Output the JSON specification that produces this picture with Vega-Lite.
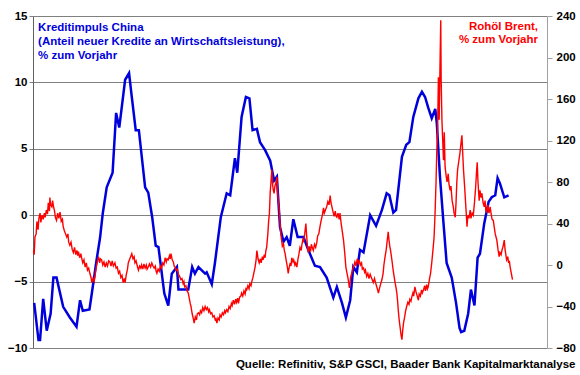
{
"$schema": "https://vega.github.io/schema/vega-lite/v6.json",
"width": 514, "height": 332,
"autosize": "none",
"padding": {"left": 33, "top": 16, "right": 33, "bottom": 27},
"background": "white",
"config": {"view": {"stroke": null}, "font": "Liberation Sans"},
"title": {"text": "Quelle: Refinitiv, S&P GSCI, Baader Bank Kapitalmarktanalyse", "orient": "bottom", "anchor": "end", "frame": "bounds", "fontSize": 11.5, "fontWeight": "bold", "font": "Liberation Sans", "color": "black", "offset": 5},
"datasets": {
"credit": [
{"t":2011.03,"v":-6.6},{"t":2011.14,"v":-9.4},{"t":2011.18,"v":-9.4},{"t":2011.26,"v":-6.3},{"t":2011.35,"v":-8.7},{"t":2011.45,"v":-7.4},{"t":2011.52,"v":-4.7},{"t":2011.60,"v":-4.7},{"t":2011.77,"v":-6.9},{"t":2011.94,"v":-7.7},{"t":2012.11,"v":-8.4},{"t":2012.20,"v":-6.4},{"t":2012.27,"v":-7.2},{"t":2012.44,"v":-7.1},{"t":2012.50,"v":-5.9},{"t":2012.62,"v":-3.4},{"t":2012.71,"v":-1.7},{"t":2012.78,"v":0.15},{"t":2012.88,"v":2.1},{"t":2013.03,"v":3.2},{"t":2013.12,"v":7.7},{"t":2013.20,"v":6.6},{"t":2013.35,"v":10.2},{"t":2013.45,"v":10.7},{"t":2013.52,"v":8.9},{"t":2013.62,"v":6.4},{"t":2013.70,"v":6.4},{"t":2013.86,"v":2.1},{"t":2013.94,"v":1.7},{"t":2014.04,"v":-0.15},{"t":2014.13,"v":-2.3},{"t":2014.20,"v":-2.4},{"t":2014.35,"v":-5.9},{"t":2014.45,"v":-6.8},{"t":2014.54,"v":-4.4},{"t":2014.67,"v":-3.9},{"t":2014.71,"v":-5.6},{"t":2014.96,"v":-5.6},{"t":2015.06,"v":-3.9},{"t":2015.13,"v":-4.4},{"t":2015.22,"v":-3.9},{"t":2015.39,"v":-4.4},{"t":2015.43,"v":-4.3},{"t":2015.56,"v":-5.2},{"t":2015.64,"v":-3.6},{"t":2015.79,"v":-0.15},{"t":2015.94,"v":1.65},{"t":2016.03,"v":1.5},{"t":2016.15,"v":4.3},{"t":2016.21,"v":3.2},{"t":2016.32,"v":7.4},{"t":2016.43,"v":8.9},{"t":2016.52,"v":8.8},{"t":2016.60,"v":6.4},{"t":2016.71,"v":6.5},{"t":2016.79,"v":5.5},{"t":2016.92,"v":4.9},{"t":2017.05,"v":4.1},{"t":2017.15,"v":2.6},{"t":2017.22,"v":2.9},{"t":2017.30,"v":-0.9},{"t":2017.39,"v":-2.0},{"t":2017.47,"v":-1.65},{"t":2017.55,"v":-2.3},{"t":2017.64,"v":-0.3},{"t":2017.75,"v":-1.65},{"t":2017.90,"v":-1.65},{"t":2018.02,"v":-2.6},{"t":2018.19,"v":-3.8},{"t":2018.32,"v":-3.9},{"t":2018.49,"v":-4.7},{"t":2018.66,"v":-6.2},{"t":2018.75,"v":-5.4},{"t":2018.88,"v":-6.6},{"t":2018.98,"v":-7.7},{"t":2019.09,"v":-6.4},{"t":2019.17,"v":-3.9},{"t":2019.26,"v":-4.3},{"t":2019.34,"v":-2.6},{"t":2019.43,"v":-2.8},{"t":2019.60,"v":0.0},{"t":2019.75,"v":-0.8},{"t":2019.90,"v":0.4},{"t":2020.02,"v":1.65},{"t":2020.09,"v":1.5},{"t":2020.19,"v":0.2},{"t":2020.26,"v":0.4},{"t":2020.41,"v":4.4},{"t":2020.52,"v":5.3},{"t":2020.60,"v":5.5},{"t":2020.70,"v":7.4},{"t":2020.83,"v":8.8},{"t":2020.92,"v":9.3},{"t":2021.00,"v":8.9},{"t":2021.08,"v":8.1},{"t":2021.17,"v":7.3},{"t":2021.26,"v":8.0},{"t":2021.30,"v":6.9},{"t":2021.38,"v":2.9},{"t":2021.47,"v":-0.6},{"t":2021.55,"v":-3.6},{"t":2021.68,"v":-4.7},{"t":2021.79,"v":-6.6},{"t":2021.88,"v":-8.5},{"t":2021.92,"v":-8.8},{"t":2022.00,"v":-8.7},{"t":2022.10,"v":-7.4},{"t":2022.17,"v":-5.6},{"t":2022.26,"v":-6.8},{"t":2022.34,"v":-3.2},{"t":2022.40,"v":-2.9},{"t":2022.51,"v":-0.6},{"t":2022.62,"v":1.0},{"t":2022.70,"v":1.35},{"t":2022.79,"v":1.5},{"t":2022.85,"v":2.8},{"t":2022.91,"v":2.4},{"t":2023.02,"v":1.35},{"t":2023.13,"v":1.5}
],
"brent": [
{"t":2011.00,"r":15},{"t":2011.03,"r":10},{"t":2011.05,"r":27},{"t":2011.08,"r":30},{"t":2011.10,"r":42},{"t":2011.13,"r":34},{"t":2011.15,"r":45},{"t":2011.18,"r":50},{"t":2011.20,"r":41},{"t":2011.23,"r":48},{"t":2011.26,"r":44},{"t":2011.29,"r":50},{"t":2011.31,"r":46},{"t":2011.34,"r":53},{"t":2011.37,"r":49},{"t":2011.39,"r":60},{"t":2011.42,"r":52},{"t":2011.43,"r":65},{"t":2011.45,"r":58},{"t":2011.48,"r":56},{"t":2011.50,"r":62},{"t":2011.52,"r":57},{"t":2011.55,"r":52},{"t":2011.57,"r":46},{"t":2011.60,"r":43},{"t":2011.63,"r":50},{"t":2011.66,"r":45},{"t":2011.69,"r":51},{"t":2011.72,"r":42},{"t":2011.75,"r":44},{"t":2011.77,"r":37},{"t":2011.80,"r":33},{"t":2011.83,"r":30},{"t":2011.86,"r":27},{"t":2011.89,"r":30},{"t":2011.91,"r":22},{"t":2011.94,"r":19},{"t":2011.97,"r":22},{"t":2012.00,"r":15},{"t":2012.03,"r":12},{"t":2012.06,"r":17},{"t":2012.09,"r":10},{"t":2012.12,"r":14},{"t":2012.14,"r":9},{"t":2012.16,"r":13},{"t":2012.19,"r":7},{"t":2012.22,"r":11},{"t":2012.24,"r":7},{"t":2012.27,"r":2},{"t":2012.30,"r":5},{"t":2012.33,"r":-2},{"t":2012.36,"r":2},{"t":2012.39,"r":-5},{"t":2012.42,"r":-3},{"t":2012.45,"r":-8},{"t":2012.48,"r":-12},{"t":2012.50,"r":-17},{"t":2012.53,"r":-13},{"t":2012.56,"r":-16},{"t":2012.58,"r":-11},{"t":2012.61,"r":-3},{"t":2012.64,"r":3},{"t":2012.67,"r":8},{"t":2012.70,"r":2},{"t":2012.72,"r":6},{"t":2012.75,"r":5},{"t":2012.78,"r":0},{"t":2012.81,"r":3},{"t":2012.84,"r":-2},{"t":2012.87,"r":2},{"t":2012.90,"r":-1},{"t":2012.93,"r":4},{"t":2012.96,"r":3},{"t":2012.99,"r":-1},{"t":2013.02,"r":4},{"t":2013.05,"r":-1},{"t":2013.09,"r":2},{"t":2013.12,"r":-3},{"t":2013.15,"r":-2},{"t":2013.18,"r":-8},{"t":2013.21,"r":-6},{"t":2013.24,"r":-12},{"t":2013.27,"r":-10},{"t":2013.30,"r":-17},{"t":2013.33,"r":-13},{"t":2013.35,"r":-17},{"t":2013.38,"r":-9},{"t":2013.41,"r":-4},{"t":2013.43,"r":2},{"t":2013.46,"r":5},{"t":2013.49,"r":8},{"t":2013.52,"r":11},{"t":2013.55,"r":6},{"t":2013.58,"r":8},{"t":2013.60,"r":2},{"t":2013.63,"r":4},{"t":2013.66,"r":-1},{"t":2013.69,"r":-5},{"t":2013.72,"r":-1},{"t":2013.75,"r":-3},{"t":2013.77,"r":0},{"t":2013.80,"r":-4},{"t":2013.83,"r":1},{"t":2013.86,"r":-3},{"t":2013.89,"r":0},{"t":2013.91,"r":-4},{"t":2013.94,"r":-2},{"t":2013.97,"r":1},{"t":2014.00,"r":-2},{"t":2014.03,"r":2},{"t":2014.06,"r":-1},{"t":2014.09,"r":-3},{"t":2014.12,"r":-1},{"t":2014.14,"r":-6},{"t":2014.16,"r":-8},{"t":2014.19,"r":-4},{"t":2014.22,"r":-6},{"t":2014.25,"r":-1},{"t":2014.28,"r":-3},{"t":2014.31,"r":2},{"t":2014.34,"r":0},{"t":2014.37,"r":7},{"t":2014.40,"r":3},{"t":2014.42,"r":6},{"t":2014.45,"r":5},{"t":2014.48,"r":9},{"t":2014.50,"r":6},{"t":2014.52,"r":11},{"t":2014.55,"r":5},{"t":2014.58,"r":3},{"t":2014.60,"r":-1},{"t":2014.62,"r":-2},{"t":2014.65,"r":-5},{"t":2014.68,"r":-4},{"t":2014.71,"r":-9},{"t":2014.74,"r":-11},{"t":2014.77,"r":-14},{"t":2014.80,"r":-13},{"t":2014.83,"r":-18},{"t":2014.85,"r":-16},{"t":2014.87,"r":-21},{"t":2014.90,"r":-20},{"t":2014.93,"r":-25},{"t":2014.96,"r":-27},{"t":2014.99,"r":-33},{"t":2015.01,"r":-37},{"t":2015.03,"r":-40},{"t":2015.06,"r":-47},{"t":2015.09,"r":-52},{"t":2015.11,"r":-56},{"t":2015.14,"r":-50},{"t":2015.17,"r":-53},{"t":2015.19,"r":-47},{"t":2015.22,"r":-46},{"t":2015.25,"r":-48},{"t":2015.27,"r":-44},{"t":2015.30,"r":-46},{"t":2015.33,"r":-41},{"t":2015.36,"r":-44},{"t":2015.39,"r":-40},{"t":2015.42,"r":-43},{"t":2015.45,"r":-41},{"t":2015.48,"r":-45},{"t":2015.50,"r":-43},{"t":2015.53,"r":-47},{"t":2015.56,"r":-46},{"t":2015.59,"r":-50},{"t":2015.62,"r":-49},{"t":2015.65,"r":-53},{"t":2015.67,"r":-52},{"t":2015.69,"r":-56},{"t":2015.72,"r":-51},{"t":2015.75,"r":-53},{"t":2015.77,"r":-48},{"t":2015.80,"r":-50},{"t":2015.83,"r":-46},{"t":2015.86,"r":-48},{"t":2015.89,"r":-44},{"t":2015.91,"r":-46},{"t":2015.94,"r":-43},{"t":2015.97,"r":-45},{"t":2016.00,"r":-40},{"t":2016.03,"r":-42},{"t":2016.06,"r":-37},{"t":2016.08,"r":-39},{"t":2016.11,"r":-34},{"t":2016.14,"r":-38},{"t":2016.17,"r":-33},{"t":2016.19,"r":-36},{"t":2016.22,"r":-32},{"t":2016.24,"r":-37},{"t":2016.27,"r":-31},{"t":2016.30,"r":-30},{"t":2016.32,"r":-27},{"t":2016.35,"r":-30},{"t":2016.38,"r":-25},{"t":2016.41,"r":-28},{"t":2016.43,"r":-23},{"t":2016.45,"r":-24},{"t":2016.48,"r":-20},{"t":2016.51,"r":-23},{"t":2016.53,"r":-18},{"t":2016.56,"r":-20},{"t":2016.58,"r":-16},{"t":2016.61,"r":-12},{"t":2016.63,"r":-8},{"t":2016.66,"r":-3},{"t":2016.69,"r":5},{"t":2016.71,"r":14},{"t":2016.74,"r":6},{"t":2016.77,"r":2},{"t":2016.80,"r":6},{"t":2016.82,"r":2},{"t":2016.85,"r":8},{"t":2016.87,"r":5},{"t":2016.90,"r":10},{"t":2016.92,"r":7},{"t":2016.94,"r":14},{"t":2016.96,"r":17},{"t":2016.99,"r":30},{"t":2017.01,"r":42},{"t":2017.03,"r":50},{"t":2017.05,"r":70},{"t":2017.07,"r":80},{"t":2017.09,"r":92},{"t":2017.11,"r":78},{"t":2017.13,"r":72},{"t":2017.15,"r":69},{"t":2017.17,"r":76},{"t":2017.20,"r":80},{"t":2017.22,"r":85},{"t":2017.24,"r":70},{"t":2017.26,"r":60},{"t":2017.28,"r":53},{"t":2017.30,"r":40},{"t":2017.32,"r":30},{"t":2017.34,"r":24},{"t":2017.36,"r":18},{"t":2017.39,"r":20},{"t":2017.41,"r":14},{"t":2017.43,"r":11},{"t":2017.46,"r":4},{"t":2017.48,"r":0},{"t":2017.51,"r":-8},{"t":2017.53,"r":-3},{"t":2017.56,"r":2},{"t":2017.58,"r":-1},{"t":2017.60,"r":7},{"t":2017.63,"r":3},{"t":2017.65,"r":5},{"t":2017.68,"r":0},{"t":2017.70,"r":2},{"t":2017.73,"r":-2},{"t":2017.76,"r":6},{"t":2017.78,"r":10},{"t":2017.81,"r":17},{"t":2017.84,"r":14},{"t":2017.86,"r":20},{"t":2017.88,"r":24},{"t":2017.90,"r":22},{"t":2017.93,"r":30},{"t":2017.96,"r":40},{"t":2017.98,"r":28},{"t":2018.00,"r":18},{"t":2018.02,"r":12},{"t":2018.05,"r":18},{"t":2018.08,"r":13},{"t":2018.10,"r":20},{"t":2018.13,"r":16},{"t":2018.15,"r":14},{"t":2018.18,"r":20},{"t":2018.21,"r":17},{"t":2018.24,"r":22},{"t":2018.26,"r":28},{"t":2018.29,"r":30},{"t":2018.32,"r":37},{"t":2018.35,"r":43},{"t":2018.38,"r":48},{"t":2018.41,"r":55},{"t":2018.43,"r":50},{"t":2018.46,"r":53},{"t":2018.49,"r":56},{"t":2018.52,"r":61},{"t":2018.55,"r":58},{"t":2018.58,"r":67},{"t":2018.60,"r":60},{"t":2018.63,"r":55},{"t":2018.66,"r":50},{"t":2018.68,"r":47},{"t":2018.71,"r":52},{"t":2018.73,"r":47},{"t":2018.75,"r":46},{"t":2018.78,"r":50},{"t":2018.81,"r":44},{"t":2018.83,"r":50},{"t":2018.86,"r":40},{"t":2018.89,"r":32},{"t":2018.92,"r":24},{"t":2018.95,"r":12},{"t":2018.98,"r":-2},{"t":2019.01,"r":-8},{"t":2019.04,"r":-14},{"t":2019.07,"r":-22},{"t":2019.10,"r":-12},{"t":2019.13,"r":-8},{"t":2019.16,"r":-3},{"t":2019.19,"r":0},{"t":2019.21,"r":3},{"t":2019.24,"r":-1},{"t":2019.27,"r":6},{"t":2019.30,"r":2},{"t":2019.32,"r":5},{"t":2019.35,"r":0},{"t":2019.38,"r":2},{"t":2019.40,"r":-4},{"t":2019.43,"r":-3},{"t":2019.46,"r":-7},{"t":2019.48,"r":-5},{"t":2019.51,"r":-11},{"t":2019.54,"r":-8},{"t":2019.57,"r":-13},{"t":2019.60,"r":-9},{"t":2019.62,"r":-11},{"t":2019.65,"r":-14},{"t":2019.68,"r":-17},{"t":2019.71,"r":-13},{"t":2019.73,"r":-16},{"t":2019.76,"r":-20},{"t":2019.79,"r":-24},{"t":2019.81,"r":-27},{"t":2019.84,"r":-22},{"t":2019.87,"r":-18},{"t":2019.90,"r":-14},{"t":2019.93,"r":-8},{"t":2019.95,"r":0},{"t":2019.98,"r":8},{"t":2020.01,"r":15},{"t":2020.03,"r":22},{"t":2020.06,"r":32},{"t":2020.08,"r":24},{"t":2020.10,"r":18},{"t":2020.12,"r":14},{"t":2020.15,"r":6},{"t":2020.17,"r":0},{"t":2020.19,"r":-6},{"t":2020.21,"r":-11},{"t":2020.24,"r":-18},{"t":2020.26,"r":-22},{"t":2020.28,"r":-27},{"t":2020.30,"r":-35},{"t":2020.32,"r":-45},{"t":2020.34,"r":-53},{"t":2020.37,"r":-62},{"t":2020.39,"r":-68},{"t":2020.41,"r":-72},{"t":2020.43,"r":-63},{"t":2020.45,"r":-56},{"t":2020.48,"r":-50},{"t":2020.50,"r":-45},{"t":2020.53,"r":-40},{"t":2020.56,"r":-36},{"t":2020.59,"r":-38},{"t":2020.61,"r":-33},{"t":2020.64,"r":-35},{"t":2020.66,"r":-31},{"t":2020.69,"r":-27},{"t":2020.71,"r":-30},{"t":2020.74,"r":-21},{"t":2020.77,"r":-26},{"t":2020.80,"r":-30},{"t":2020.83,"r":-34},{"t":2020.85,"r":-28},{"t":2020.88,"r":-30},{"t":2020.91,"r":-24},{"t":2020.93,"r":-27},{"t":2020.96,"r":-24},{"t":2020.99,"r":-20},{"t":2021.01,"r":-25},{"t":2021.04,"r":-19},{"t":2021.06,"r":-23},{"t":2021.08,"r":-21},{"t":2021.11,"r":-14},{"t":2021.14,"r":-8},{"t":2021.17,"r":2},{"t":2021.19,"r":10},{"t":2021.21,"r":18},{"t":2021.23,"r":27},{"t":2021.25,"r":45},{"t":2021.26,"r":56},{"t":2021.28,"r":80},{"t":2021.30,"r":111},{"t":2021.32,"r":130},{"t":2021.34,"r":181},{"t":2021.35,"r":150},{"t":2021.36,"r":140},{"t":2021.38,"r":190},{"t":2021.40,"r":236},{"t":2021.41,"r":180},{"t":2021.43,"r":140},{"t":2021.45,"r":120},{"t":2021.47,"r":101},{"t":2021.49,"r":128},{"t":2021.51,"r":95},{"t":2021.54,"r":85},{"t":2021.56,"r":80},{"t":2021.59,"r":88},{"t":2021.61,"r":78},{"t":2021.64,"r":72},{"t":2021.66,"r":76},{"t":2021.69,"r":62},{"t":2021.72,"r":56},{"t":2021.74,"r":50},{"t":2021.77,"r":46},{"t":2021.79,"r":60},{"t":2021.81,"r":80},{"t":2021.83,"r":92},{"t":2021.86,"r":100},{"t":2021.89,"r":108},{"t":2021.91,"r":115},{"t":2021.94,"r":125},{"t":2021.96,"r":108},{"t":2021.98,"r":92},{"t":2022.01,"r":75},{"t":2022.04,"r":56},{"t":2022.07,"r":37},{"t":2022.09,"r":48},{"t":2022.12,"r":45},{"t":2022.15,"r":53},{"t":2022.17,"r":45},{"t":2022.20,"r":50},{"t":2022.23,"r":48},{"t":2022.26,"r":60},{"t":2022.29,"r":75},{"t":2022.31,"r":88},{"t":2022.33,"r":99},{"t":2022.35,"r":80},{"t":2022.38,"r":62},{"t":2022.40,"r":72},{"t":2022.43,"r":65},{"t":2022.45,"r":69},{"t":2022.48,"r":60},{"t":2022.51,"r":56},{"t":2022.53,"r":62},{"t":2022.55,"r":52},{"t":2022.57,"r":51},{"t":2022.60,"r":58},{"t":2022.63,"r":50},{"t":2022.66,"r":56},{"t":2022.69,"r":48},{"t":2022.71,"r":44},{"t":2022.74,"r":43},{"t":2022.77,"r":35},{"t":2022.79,"r":30},{"t":2022.83,"r":24},{"t":2022.86,"r":15},{"t":2022.89,"r":8},{"t":2022.91,"r":12},{"t":2022.94,"r":10},{"t":2022.96,"r":14},{"t":2022.99,"r":18},{"t":2023.02,"r":24},{"t":2023.04,"r":15},{"t":2023.06,"r":10},{"t":2023.08,"r":5},{"t":2023.11,"r":8},{"t":2023.13,"r":2},{"t":2023.15,"r":4},{"t":2023.17,"r":-2},{"t":2023.20,"r":-8},{"t":2023.23,"r":-14}
]
},
"layer": [
{
"layer": [
{
"data": {"name": "credit"},
"mark": {"type": "line", "color": "#0000DD", "strokeWidth": 2.5, "clip": true},
"encoding": {
"x": {"field": "t", "type": "quantitative", "scale": {"domain": [2011, 2024.11], "nice": false, "zero": false},
"axis": {"orient": "bottom", "offset": -133, "values": [2011,2013,2015,2017,2019,2021,2023], "format": "d", "grid": false, "title": null, "labelFont": "Liberation Sans", "labelFontWeight": "bold", "labelFontSize": 11.5, "labelColor": "black", "labelFlush": false, "labelOverlap": false, "tickColor": "#808080", "domainColor": "#808080", "tickSize": 4, "labelPadding": 2}},
"y": {"field": "v", "type": "quantitative", "scale": {"domain": [-10, 15], "nice": false, "zero": false},
"axis": {"orient": "left", "values": [-10,-5,0,5,10,15], "grid": true, "gridColor": "#808080", "gridWidth": 1, "gridOpacity": 1, "title": null, "labelFont": "Liberation Sans", "labelFontWeight": "bold", "labelFontSize": 11.5, "labelColor": "black", "tickColor": "#808080", "domainColor": "#606060", "tickSize": 4, "labelPadding": 2}}
}
},
{
"data": {"values": [{}]},
"mark": {"type": "text", "text": ["Kreditimpuls China", "(Anteil neuer Kredite an Wirtschaftsleistung),", "% zum Vorjahr"], "align": "left", "baseline": "top", "font": "Liberation Sans", "fontWeight": "bold", "fontSize": 11.5, "lineHeight": 14, "color": "#0000DD"},
"encoding": {"x": {"datum": 2011.13}, "y": {"datum": 14.55}}
}
]
},
{
"layer": [
{
"data": {"name": "brent"},
"mark": {"type": "line", "color": "#FF0000", "strokeWidth": 1.4, "clip": true},
"encoding": {
"x": {"field": "t", "type": "quantitative", "axis": null},
"y": {"field": "r", "type": "quantitative", "scale": {"domain": [-80, 240], "nice": false, "zero": false},
"axis": {"orient": "right", "values": [-80,-40,0,40,80,120,160,200,240], "grid": false, "title": null, "labelFont": "Liberation Sans", "labelFontWeight": "bold", "labelFontSize": 11.5, "labelColor": "black", "tickColor": "#A0A0A0", "domainColor": "#A0A0A0", "tickSize": 5, "labelPadding": 4}}
}
},
{
"data": {"values": [{}]},
"mark": {"type": "text", "text": ["Rohöl Brent,", "% zum Vorjahr"], "align": "right", "baseline": "top", "font": "Liberation Sans", "fontWeight": "bold", "fontSize": 11.5, "lineHeight": 13, "color": "#FF0000"},
"encoding": {"x": {"datum": 2023.88}, "y": {"datum": 235}}
}
]
}
],
"resolve": {"scale": {"y": "independent"}}
}
